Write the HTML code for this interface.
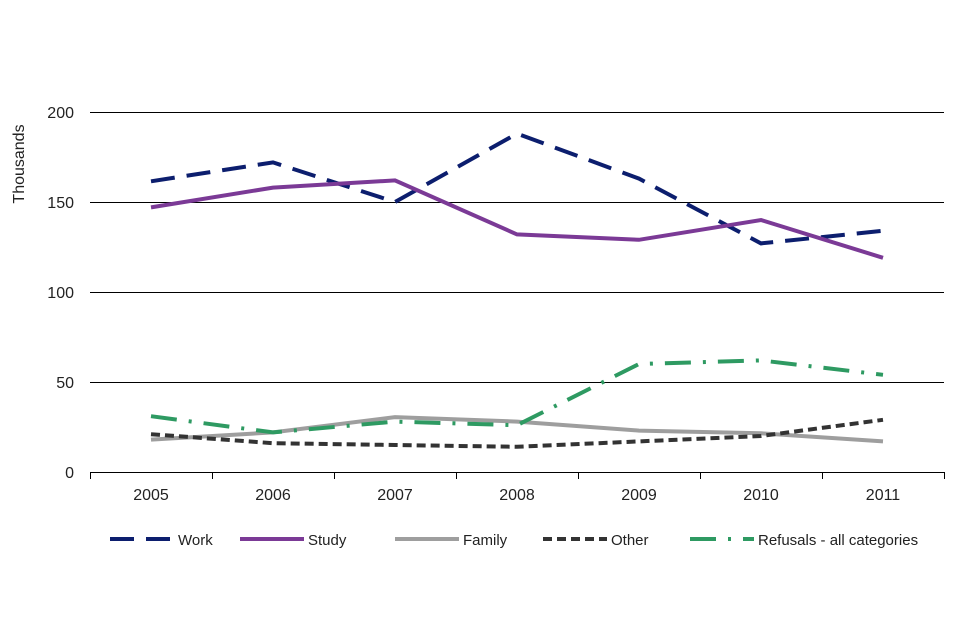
<!DOCTYPE html>
<html><head><meta charset="utf-8"><style>
body{margin:0;background:#fff;font-family:"Liberation Sans",sans-serif}
svg{display:block}
text{font-family:"Liberation Sans",sans-serif;fill:#222}
</style></head><body>
<svg id="c" width="960" height="640"></svg>
<script>
const categories=["2005","2006","2007","2008","2009","2010","2011"];
const yTicks=[0,50,100,150,200];
const work=[161.5,172,150,188,163,127,134];
const study=[147,158,162,132,129,140,119];
const family=[18,22,30.5,28,23,21.5,17];
const other=[21,16,15,14,17,20,29];
const refusals=[31,22,28,26,60,62,54];
const seriesNames=["Work","Study","Family","Other","Refusals - all categories"];

const NS="http://www.w3.org/2000/svg";
const svg=document.getElementById('c');
const L=90,R=944,T=112,B=472,maxY=200;
const bw=(R-L)/categories.length;
const x=i=>L+bw*(i+0.5);
const y=v=>B-(v/maxY)*(B-T);
function mk(tag,attrs,parent){const e=document.createElementNS(NS,tag);for(const k in attrs)e.setAttribute(k,attrs[k]);(parent||svg).appendChild(e);return e;}

yTicks.forEach(t=>{
  if(t>0){const g=mk('line',{x1:L,x2:R,y1:y(t)+0.5,y2:y(t)+0.5,stroke:'#000','stroke-width':1});
  
  }
  const lb=mk('text',{x:74,y:y(t)+6,'text-anchor':'end','font-size':16});
  lb.textContent=t;
  
  
});
const ax=mk('line',{x1:L,x2:R,y1:B+0.5,y2:B+0.5,stroke:'#000','stroke-width':1});


for(let i=0;i<=categories.length;i++){
  const tk=mk('line',{x1:Math.round(L+bw*i)+0.5,x2:Math.round(L+bw*i)+0.5,y1:B,y2:B+7,stroke:'#000'});
  
  
}
categories.forEach((c,i)=>{
  const t=mk('text',{x:x(i),y:500,'text-anchor':'middle','font-size':16});
  t.textContent=c;
  
  
});
const yt=mk('text',{x:0,y:0,'text-anchor':'middle','font-size':16,transform:'translate(24,164) rotate(-90)'});
yt.textContent='Thousands';



const styles=[
 {d:work,c:'#0c1e6e',dash:'24,12',name:'work'},
 {d:study,c:'#7b3a96',dash:'',name:'study'},
 {d:family,c:'#9e9e9e',dash:'',name:'family'},
 {d:other,c:'#333333',dash:'9,5',name:'other'},
 {d:refusals,c:'#2e9a62',dash:'26,12,3,12',name:'refusals'}
];
styles.forEach(s=>{
  const p=mk('polyline',{points:s.d.map((v,i)=>x(i)+','+y(v)).join(' '),fill:'none',stroke:s.c,'stroke-width':4,'stroke-dasharray':s.dash});
  
  
});
const lx=[110,240,395,543,690];
styles.forEach((s,i)=>{
  const g=mk('g',{});
  
  
  mk('line',{x1:lx[i],x2:lx[i]+64,y1:539,y2:539,stroke:s.c,'stroke-width':4,'stroke-dasharray':s.dash},g);
  const t=mk('text',{x:lx[i]+68,y:545,'font-size':15},g);
  t.textContent=seriesNames[i];
});
</script>
</body></html>
